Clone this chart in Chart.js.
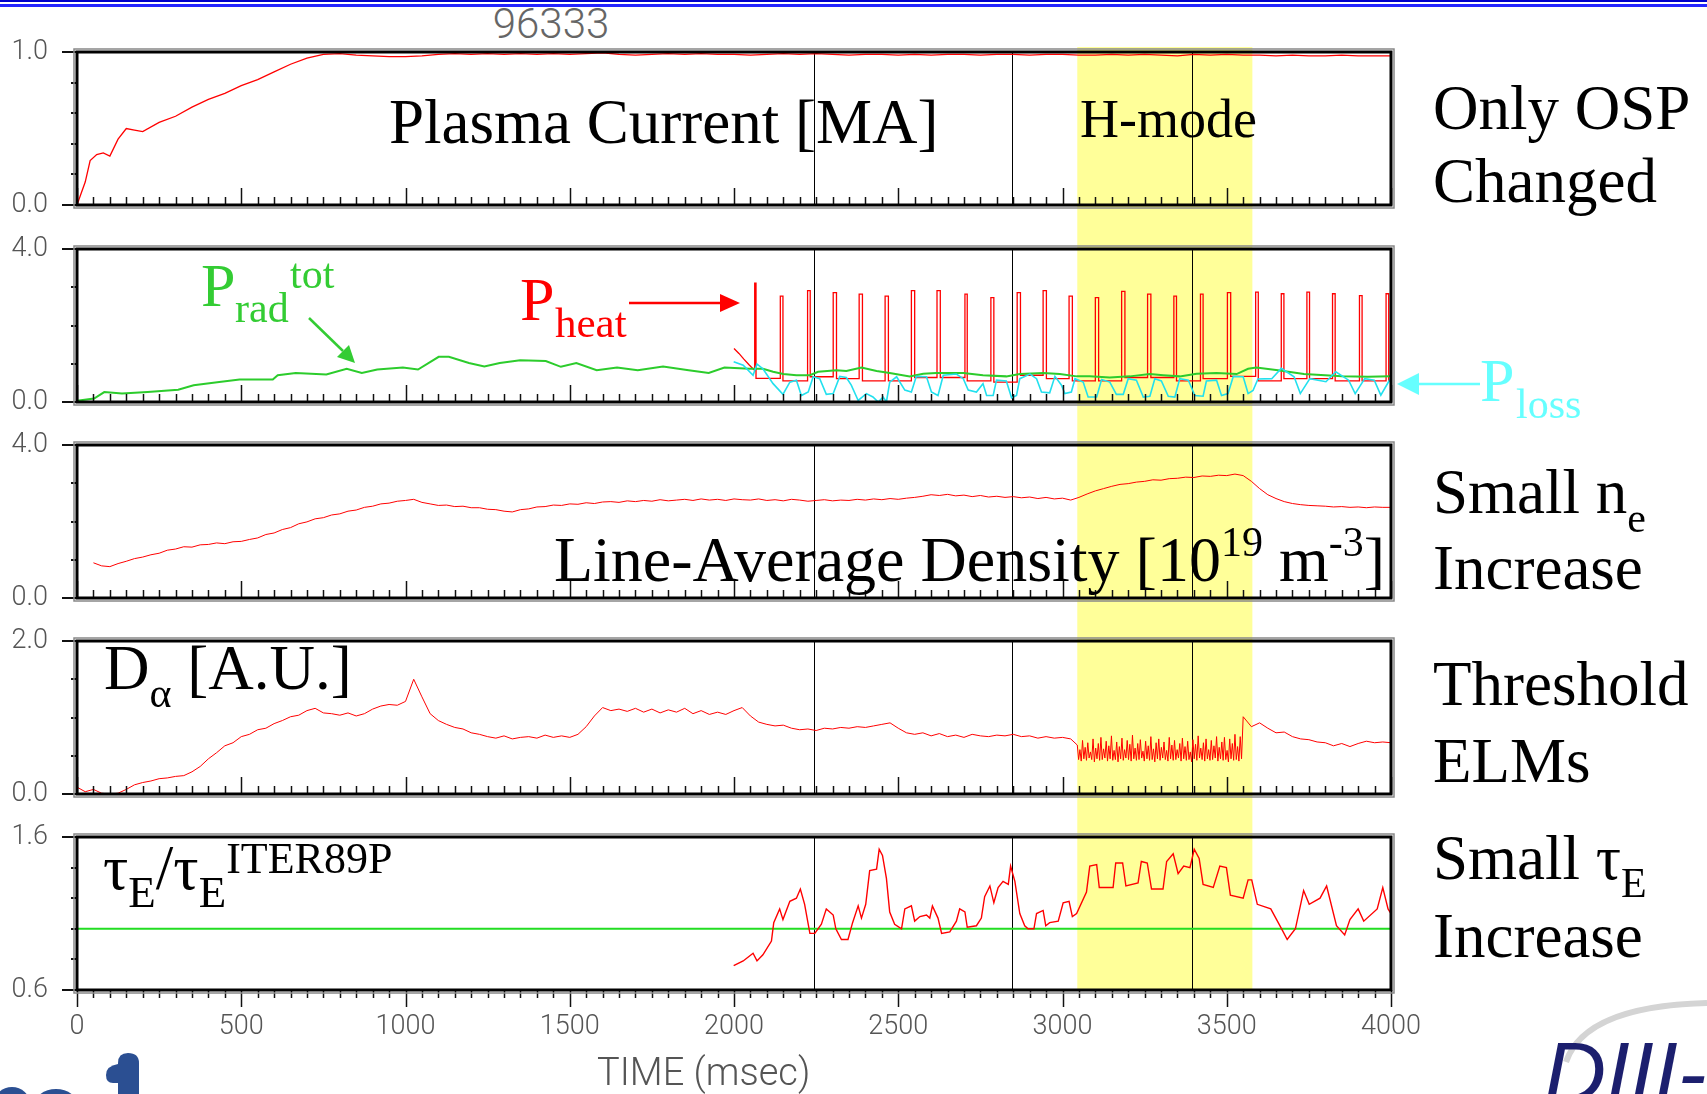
<!DOCTYPE html>
<html>
<head>
<meta charset="utf-8">
<title>96333</title>
<script src="https://cdn.jsdelivr.net/npm/chart.js@4.4.1/dist/chart.umd.min.js"></script>
<style>
  body { margin: 0; background: #fff; }
  #page { position: relative; width: 1707px; height: 1094px; overflow: hidden; background: #fff; }
  canvas { position: absolute; left: 0; }
  .rule { position: absolute; left: 0; width: 1707px; }
  .tx { position: absolute; font-family: 'Liberation Serif', 'Times New Roman', serif; line-height: 1; white-space: nowrap; color: #000; }
  .sb { position: relative; font-size: 42px; }
  .sans { position: absolute; font-family: Roboto, sans-serif; font-weight: 300; line-height: 1; color: #555; white-space: nowrap; }
  svg { position: absolute; left: 0; top: 0; }
</style>
</head>
<body>
<div id="page">
  <div class="rule" style="top:0;height:2px;background:#0000c8"></div>
  <div class="rule" style="top:4px;height:3px;background:#2424ff"></div>
  <div class="sans" style="left:451px;top:3px;width:200px;text-align:center;font-size:42px;color:#666">96333</div>

  <canvas id="ipChart" width="1707" height="197" style="top:30px"></canvas>
  <canvas id="powerChart" width="1707" height="196" style="top:227px"></canvas>
  <canvas id="neChart" width="1707" height="196" style="top:423px"></canvas>
  <canvas id="daChart" width="1707" height="196" style="top:619px"></canvas>
  <canvas id="tauChart" width="1707" height="279" style="top:815px"></canvas>

  <!-- panel captions -->
  <div class="tx" style="left:389px;top:91px;font-size:63px">Plasma Current [MA]</div>
  <div class="tx" style="left:1080px;top:92px;font-size:54px">H-mode</div>
  <div class="tx" style="right:322px;top:528px;font-size:64px">Line-Average Density [10<span class="sb" style="font-size:42px;top:-25px">19</span> m<span class="sb" style="font-size:42px;top:-25px">-3</span>]</div>
  <div class="tx" style="left:104px;top:637px;font-size:63px">D<span class="sb" style="top:18px">&alpha;</span> [A.U.]</div>
  <div class="tx" style="left:103px;top:837px;font-size:63px">&tau;<span class="sb" style="font-size:45px;top:18px">E</span>/&tau;<span class="sb" style="font-size:45px;top:18px">E</span><span class="sb" style="font-size:44px;top:-16px">ITER89P</span></div>

  <div class="tx" style="left:201px;top:254px;font-size:62px;color:#33cc33">P</div>
  <div class="tx" style="left:235px;top:287px;font-size:42px;color:#33cc33">rad</div>
  <div class="tx" style="left:290px;top:253px;font-size:42px;color:#33cc33">tot</div>
  <div class="tx" style="left:520px;top:268px;font-size:62px;color:#ff0000">P</div>
  <div class="tx" style="left:555px;top:301px;font-size:43px;color:#ff0000">heat</div>
  <div class="tx" style="left:1480px;top:349px;font-size:62px;color:#66ffff">P</div>
  <div class="tx" style="left:1516px;top:383px;font-size:42px;color:#66ffff">loss</div>

  <!-- right-hand notes -->
  <div class="tx" style="left:1433px;top:77px;font-size:63px">Only OSP</div>
  <div class="tx" style="left:1433px;top:150px;font-size:63px">Changed</div>
  <div class="tx" style="left:1433px;top:461px;font-size:63px">Small n<span class="sb" style="top:19px">e</span></div>
  <div class="tx" style="left:1433px;top:537px;font-size:63px">Increase</div>
  <div class="tx" style="left:1433px;top:653px;font-size:63px">Threshold</div>
  <div class="tx" style="left:1433px;top:730px;font-size:63px">ELMs</div>
  <div class="tx" style="left:1433px;top:827px;font-size:63px">Small &tau;<span class="sb" style="top:18px">E</span></div>
  <div class="tx" style="left:1433px;top:905px;font-size:63px">Increase</div>

  <div class="sans" style="left:597px;top:1053px;font-size:38px">TIME (msec)</div>

  <svg width="1707" height="1094">
    <!-- arrows -->
    <line x1="309" y1="318" x2="343" y2="351" stroke="#33cc33" stroke-width="2.5"/>
    <polygon points="355,363 337,357 349,345" fill="#33cc33"/>
    <line x1="629" y1="303" x2="722" y2="303" stroke="#ff0000" stroke-width="2.5"/>
    <polygon points="740,303 720,294 720,312" fill="#ff0000"/>
    <line x1="1480" y1="384" x2="1416" y2="384" stroke="#66ffff" stroke-width="2.5"/>
    <polygon points="1397,384 1419,373 1419,395" fill="#66ffff"/>
    <!-- logo fragments along the bottom edge -->
    <path d="M1566 1062 Q1585 1006 1707 1003" fill="none" stroke="#d4d4d4" stroke-width="6"/>
    <path d="M118 1094 L118 1063 Q118 1053 128 1053 Q139 1053 139 1063 L139 1094 Z" fill="#2b4f92"/>
    <path d="M118 1064 Q106 1066 106 1075 Q106 1083 113 1083 L118 1083 Z" fill="#2b4f92"/>
    <ellipse cx="12" cy="1104" rx="18" ry="17" fill="#2b4f92"/>
    <ellipse cx="56" cy="1106" rx="22" ry="17" fill="#2b4f92"/>
  </svg>
  <div style="position:absolute;left:1544px;top:1029px;font-family:'Liberation Sans',sans-serif;font-style:italic;font-size:86px;line-height:1;color:#1c1f6e;white-space:nowrap">DIII-D</div>
</div>

<script>
// --- Shared time axis ---
const xTickValues = [0, 500, 1000, 1500, 2000, 2500, 3000, 3500, 4000];
const markerTimes = [2245, 2845, 3393];
const hModeBand = [3045, 3578];

// --- 1. Plasma current [MA] ---
const ipRampTime = [0, 10, 25, 40, 60, 80, 100, 125, 150, 175, 200];
const ipRampVal = [0.00, 0.06, 0.15, 0.29, 0.33, 0.34, 0.32, 0.43, 0.50, 0.49, 0.48];
const ipStart = 250, ipStep = 50;
const ipVal = [
  0.54, 0.58, 0.64, 0.69, 0.73, 0.78, 0.82, 0.87, 0.92, 0.96, 0.985, 0.99, 0.98, 0.975, 0.97, 0.97, 0.975, 0.985, 0.99, 0.985,
  0.99, 0.985, 0.99, 0.985, 0.99, 0.985, 0.99, 0.995, 0.985, 0.98, 0.985, 0.99, 0.985, 0.99, 0.985, 0.985, 0.98, 0.985, 0.99, 0.985,
  0.99, 0.985, 0.98, 0.985, 0.985, 0.98, 0.985, 0.98, 0.985, 0.985, 0.98, 0.985, 0.985, 0.98, 0.985, 0.985, 0.98, 0.98, 0.985, 0.98,
  0.985, 0.98, 0.975, 0.985, 0.98, 0.985, 0.98, 0.98, 0.975, 0.98, 0.975, 0.975, 0.98, 0.975, 0.975, 0.975
];
const ipTicks = [0, 1];

// --- 2. Powers [MW] ---
const pradTime = [0, 52, 83, 137, 215, 308, 355, 433, 495, 596, 611, 666, 759, 821, 867, 914, 992, 1038, 1101, 1132,
  1193, 1240, 1287, 1349, 1427, 1473, 1520, 1582, 1644, 1707, 1784, 1862, 1923, 1971, 2048, 2088, 2119, 2150, 2190, 2231,
  2256, 2312, 2342, 2388, 2434, 2474, 2535, 2576, 2616, 2698, 2758, 2829, 2870, 2941, 2992, 3043, 3083, 3144, 3205, 3266,
  3307, 3357, 3408, 3469, 3530, 3565, 3590, 3656, 3735, 3851, 3930, 3997];
const pradVal = [0.03, 0.09, 0.26, 0.22, 0.26, 0.32, 0.44, 0.52, 0.59, 0.59, 0.70, 0.76, 0.72, 0.87, 0.76, 0.85, 0.90, 0.85, 1.18, 1.18,
  1.02, 0.93, 1.02, 1.09, 1.07, 0.92, 1.02, 0.83, 0.90, 0.83, 0.93, 0.83, 0.76, 0.90, 0.87, 0.87, 0.79, 0.73, 0.70, 0.70,
  0.79, 0.83, 0.81, 0.90, 0.81, 0.76, 0.67, 0.74, 0.76, 0.76, 0.70, 0.67, 0.73, 0.76, 0.73, 0.67, 0.67, 0.64, 0.67, 0.73,
  0.70, 0.67, 0.74, 0.76, 0.73, 0.87, 0.90, 0.83, 0.73, 0.67, 0.66, 0.67];

const heatLeadTime = [2000, 2015, 2030, 2045, 2060];
const heatLeadVal = [1.40, 1.27, 1.12, 0.98, 0.85];
const heatPulseTime = [2063, 2141, 2224, 2302, 2381, 2460, 2540, 2618, 2703, 2782, 2862, 2941, 3020,
  3100, 3180, 3259, 3339, 3420, 3502, 3588, 3666, 3744, 3822, 3904, 3985];
const heatPulseWidth = [4, 8, 8, 10, 10, 10, 10, 10, 7, 9, 10, 10, 10, 10, 10, 10, 8, 8, 10, 8, 8, 8, 8, 8, 8];
const heatPulseTop = [3.11, 2.77, 2.91, 2.86, 2.82, 2.77, 2.91, 2.91, 2.82, 2.73, 2.86, 2.91, 2.77,
  2.73, 2.89, 2.82, 2.77, 2.82, 2.86, 2.87, 2.83, 2.87, 2.83, 2.78, 2.83];
// level ahead of each pulse, last entry is the level after the final one
const heatBase = [0.83, 0.62, 0.55, 0.66, 0.61, 0.55, 0.55, 0.64, 0.64, 0.55, 0.52, 0.70, 0.61,
  0.55, 0.55, 0.64, 0.64, 0.55, 0.61, 0.67, 0.55, 0.61, 0.61, 0.55, 0.55, 0.55];

const plossTime = [1999, 2028, 2058, 2070, 2088, 2119, 2149, 2170, 2190, 2205, 2226, 2241, 2261, 2281, 2302, 2322, 2342, 2357, 2378, 2403,
  2423, 2439, 2454, 2464, 2474, 2495, 2520, 2540, 2555, 2586, 2601, 2621, 2637, 2677, 2698, 2713, 2738, 2758, 2769, 2789,
  2799, 2829, 2845, 2860, 2870, 2901, 2921, 2936, 2961, 2977, 2997, 3007, 3027, 3038, 3063, 3078, 3104, 3119, 3144, 3164,
  3185, 3200, 3225, 3246, 3266, 3281, 3301, 3322, 3342, 3357, 3383, 3403, 3428, 3438, 3469, 3484, 3504, 3520, 3550, 3565,
  3580, 3595, 3637, 3666, 3705, 3724, 3753, 3802, 3832, 3871, 3891, 3920, 3949, 3969, 3998];
const plossVal = [1.05, 0.96, 0.70, 0.99, 0.87, 0.48, 0.20, 0.52, 0.57, 0.17, 0.26, 0.66, 0.61, 0.20, 0.22, 0.67, 0.64, 0.44, 0.04, 0.22,
  0.13, 0.00, 0.13, 0.00, 0.52, 0.66, 0.31, 0.26, 0.67, 0.66, 0.26, 0.17, 0.70, 0.73, 0.61, 0.31, 0.26, 0.48, 0.17, 0.17,
  0.57, 0.55, 0.11, 0.17, 0.61, 0.73, 0.61, 0.26, 0.24, 0.67, 0.44, 0.22, 0.26, 0.61, 0.52, 0.13, 0.13, 0.59, 0.52, 0.20,
  0.20, 0.61, 0.57, 0.13, 0.15, 0.61, 0.55, 0.15, 0.13, 0.61, 0.57, 0.17, 0.15, 0.55, 0.57, 0.17, 0.22, 0.67, 0.66, 0.22,
  0.30, 0.60, 0.61, 0.88, 0.66, 0.22, 0.61, 0.53, 0.79, 0.57, 0.22, 0.61, 0.57, 0.18, 0.61];
const powerTicks = [0, 4];

// --- 3. Line-average density [1e19 m^-3] ---
const neStart = 50, neStep = 25;
const neVal = [
  0.92, 0.84, 0.82, 0.90, 0.96, 1.03, 1.07, 1.13, 1.17, 1.25, 1.28, 1.34, 1.33, 1.39, 1.40, 1.44, 1.42, 1.47, 1.48, 1.53,
  1.57, 1.66, 1.70, 1.79, 1.84, 1.94, 1.99, 2.07, 2.10, 2.17, 2.20, 2.27, 2.30, 2.37, 2.40, 2.46, 2.48, 2.53, 2.55, 2.58,
  2.50, 2.46, 2.42, 2.43, 2.39, 2.40, 2.36, 2.36, 2.32, 2.31, 2.27, 2.25, 2.31, 2.33, 2.38, 2.39, 2.43, 2.42, 2.46, 2.45,
  2.49, 2.47, 2.51, 2.52, 2.50, 2.54, 2.52, 2.55, 2.53, 2.57, 2.54, 2.56, 2.58, 2.55, 2.59, 2.56, 2.58, 2.55, 2.59, 2.57,
  2.56, 2.59, 2.55, 2.57, 2.54, 2.58, 2.56, 2.53, 2.55, 2.57, 2.54, 2.56, 2.55, 2.58, 2.56, 2.59, 2.57, 2.60, 2.58, 2.61,
  2.63, 2.66, 2.70, 2.68, 2.71, 2.67, 2.69, 2.65, 2.68, 2.64, 2.66, 2.63, 2.65, 2.62, 2.64, 2.60, 2.63, 2.59, 2.61, 2.56,
  2.63, 2.72, 2.80, 2.86, 2.92, 2.97, 2.99, 3.03, 3.05, 3.09, 3.08, 3.12, 3.13, 3.16, 3.15, 3.19, 3.18, 3.21, 3.20, 3.24,
  3.20, 3.05, 2.86, 2.70, 2.60, 2.52, 2.47, 2.44, 2.42, 2.41, 2.40, 2.38, 2.39, 2.37, 2.38, 2.36, 2.38, 2.37, 2.37
];
const neTicks = [0, 4];

// --- 4. D-alpha [A.U.] ---
const daStep = 25;
const daPre = [
  0.09, 0.03, 0.06, 0.01, 0.00, 0.01, 0.06, 0.12, 0.15, 0.17, 0.20, 0.21, 0.23, 0.24, 0.29, 0.36, 0.46, 0.54, 0.63, 0.67,
  0.75, 0.78, 0.84, 0.86, 0.92, 0.96, 1.01, 1.03, 1.09, 1.12, 1.06, 1.05, 1.03, 1.06, 1.02, 1.05, 1.11, 1.15, 1.17, 1.16,
  1.21, 1.50, 1.27, 1.05, 0.96, 0.91, 0.87, 0.85, 0.80, 0.78, 0.75, 0.73, 0.76, 0.72, 0.74, 0.75, 0.73, 0.77, 0.74, 0.76,
  0.74, 0.78, 0.88, 1.02, 1.13, 1.09, 1.11, 1.08, 1.12, 1.07, 1.11, 1.06, 1.10, 1.07, 1.12, 1.05, 1.09, 1.04, 1.07, 1.04,
  1.09, 1.13, 1.02, 0.94, 0.91, 0.89, 0.90, 0.86, 0.84, 0.85, 0.83, 0.86, 0.85, 0.87, 0.86, 0.88, 0.87, 0.89, 0.91, 0.93,
  0.86, 0.80, 0.78, 0.80, 0.76, 0.79, 0.75, 0.77, 0.74, 0.78, 0.76, 0.75, 0.77, 0.76, 0.78, 0.75, 0.76, 0.73, 0.75, 0.73,
  0.74, 0.72
];
// ELM bursts inside the H-mode window, 4 ms apart
const elmStart = 3045, elmStep = 4;
const elmVal = [
  0.64, 0.45, 0.58, 0.43, 0.70, 0.46, 0.61, 0.44, 0.67, 0.47,
  0.55, 0.45, 0.72, 0.42, 0.60, 0.46, 0.66, 0.44, 0.74, 0.45,
  0.59, 0.47, 0.69, 0.43, 0.63, 0.46, 0.76, 0.44, 0.57, 0.45,
  0.68, 0.42, 0.62, 0.46, 0.73, 0.44, 0.58, 0.47, 0.70, 0.45,
  0.65, 0.43, 0.77, 0.46, 0.60, 0.44, 0.66, 0.45, 0.71, 0.47,
  0.56, 0.43, 0.69, 0.46, 0.63, 0.44, 0.75, 0.45, 0.59, 0.42,
  0.67, 0.46, 0.72, 0.44, 0.61, 0.47, 0.68, 0.45, 0.57, 0.43,
  0.74, 0.46, 0.64, 0.44, 0.70, 0.45, 0.58, 0.47, 0.66, 0.43,
  0.73, 0.46, 0.62, 0.44, 0.69, 0.45, 0.55, 0.42, 0.71, 0.46,
  0.65, 0.44, 0.76, 0.47, 0.60, 0.45, 0.67, 0.43, 0.72, 0.46,
  0.58, 0.44, 0.70, 0.45, 0.63, 0.47, 0.75, 0.43, 0.61, 0.46,
  0.68, 0.44, 0.74, 0.45, 0.57, 0.42, 0.72, 0.46, 0.66, 0.44,
  0.78, 0.45, 0.62, 0.43, 0.75, 0.46
];
const daPostStart = 3550;
const daPost = [1.01, 0.88, 0.93, 0.86, 0.80, 0.81, 0.75, 0.72, 0.71, 0.68, 0.67, 0.63, 0.66, 0.62, 0.66, 0.69, 0.67, 0.68, 0.67];
const daTicks = [0, 2];

// --- 5. Confinement relative to ITER89P ---
const tauTime = [1999, 2028, 2058, 2070, 2088, 2114, 2121, 2139, 2149, 2170, 2190, 2202, 2215, 2231, 2246, 2266, 2281, 2302, 2310, 2327,
  2347, 2361, 2378, 2388, 2401, 2413, 2434, 2442, 2452, 2464, 2474, 2489, 2510, 2520, 2540, 2550, 2566, 2586, 2596, 2604,
  2621, 2632, 2657, 2677, 2687, 2703, 2710, 2738, 2753, 2763, 2779, 2791, 2804, 2819, 2835, 2842, 2855, 2870, 2885, 2895,
  2913, 2921, 2941, 2949, 2961, 2987, 3002, 3020, 3030, 3043, 3073, 3083, 3104, 3112, 3154, 3162, 3183, 3193, 3230, 3240,
  3258, 3271, 3306, 3317, 3337, 3352, 3369, 3388, 3401, 3416, 3428, 3459, 3479, 3499, 3511, 3550, 3565, 3576, 3593, 3634,
  3667, 3684, 3709, 3734, 3751, 3784, 3804, 3834, 3859, 3875, 3900, 3917, 3958, 3975, 3991, 4000];
const tauVal = [0.76, 0.79, 0.84, 0.79, 0.83, 0.92, 1.04, 1.13, 1.06, 1.18, 1.20, 1.26, 1.16, 0.97, 0.97, 1.03, 1.13, 1.09, 1.00, 0.93,
  0.93, 1.04, 1.15, 1.07, 1.16, 1.38, 1.39, 1.52, 1.48, 1.33, 1.11, 1.03, 1.00, 1.13, 1.15, 1.05, 1.08, 1.09, 1.07, 1.15,
  1.07, 0.97, 0.98, 1.05, 1.13, 1.11, 1.01, 1.02, 1.07, 1.21, 1.28, 1.17, 1.27, 1.31, 1.29, 1.41, 1.31, 1.10, 1.02, 1.00,
  1.00, 1.10, 1.12, 1.02, 1.04, 1.05, 1.17, 1.18, 1.08, 1.10, 1.24, 1.41, 1.42, 1.27, 1.27, 1.43, 1.43, 1.28, 1.30, 1.44,
  1.43, 1.26, 1.26, 1.44, 1.49, 1.36, 1.41, 1.40, 1.52, 1.46, 1.29, 1.27, 1.41, 1.40, 1.22, 1.20, 1.32, 1.32, 1.16, 1.13,
  1.00, 0.93, 1.00, 1.25, 1.16, 1.20, 1.28, 1.02, 0.96, 1.06, 1.13, 1.05, 1.13, 1.27, 1.13, 1.10];
const tauRefTime = [0, 4000];
const tauRefVal = [1.0, 1.0];
const tauTicks = [0.6, 1.6];

// --- helpers ---
const pairs = (ts, vs) => ts.map((t, i) => ({ x: t, y: vs[i] }));
const sampled = (start, step, vs) => vs.map((v, i) => ({ x: start + i * step, y: v }));

const heatPts = pairs(heatLeadTime, heatLeadVal);
heatPulseTime.forEach((t, i) => {
  const w = heatPulseWidth[i];
  heatPts.push({ x: t, y: heatBase[i] }, { x: t, y: heatPulseTop[i] },
    { x: t + w, y: heatPulseTop[i] }, { x: t + w, y: heatBase[i + 1] });
});
heatPts.push({ x: 4000, y: heatBase[heatBase.length - 1] });

const daPts = sampled(0, daStep, daPre)
  .concat(sampled(elmStart, elmStep, elmVal))
  .concat(sampled(daPostStart, daStep, daPost));

const tickFont = { family: 'Roboto', size: 27, weight: '300' };

// frame, ticks, H-mode window and time markers for each panel
const panelFrame = {
  id: 'panelFrame',
  beforeDatasetsDraw(chart, args, opts) {
    const { ctx, chartArea: a, scales: { x } } = chart;
    ctx.save();
    const b0 = x.getPixelForValue(hModeBand[0]);
    const b1 = x.getPixelForValue(hModeBand[1]);
    const top = opts.bandTop === 'area' ? a.top - 5 : 0;
    const bottom = opts.bandBottom === 'area' ? a.bottom : chart.height;
    ctx.fillStyle = '#ffff99';
    ctx.fillRect(b0, top, b1 - b0, bottom - top);
    ctx.strokeStyle = '#000';
    ctx.lineWidth = 1;
    markerTimes.forEach(t => {
      const px = Math.round(x.getPixelForValue(t)) + 0.5;
      ctx.beginPath();
      ctx.moveTo(px, a.top);
      ctx.lineTo(px, a.bottom);
      ctx.stroke();
    });
    ctx.restore();
  },
  afterDatasetsDraw(chart, args, opts) {
    const { ctx, chartArea: a, scales: { x, y } } = chart;
    ctx.save();
    ctx.strokeStyle = '#111';
    ctx.lineWidth = 1.5;
    for (let t = 0; t <= 4000; t += 50) {
      const px = Math.round(x.getPixelForValue(t)) + 0.5;
      const len = t % 500 === 0 ? 17 : 8;
      ctx.beginPath();
      ctx.moveTo(px, a.bottom);
      ctx.lineTo(px, opts.outsideTicks ? a.bottom + len : a.bottom - len);
      ctx.stroke();
    }
    ctx.lineWidth = 2;
    const n = Math.round((y.max - y.min) / opts.yStep);
    for (let i = 0; i <= n; i++) {
      const py = Math.round(y.getPixelForValue(y.min + i * opts.yStep));
      const len = (i === 0 || i === n) ? 15 : 6;
      ctx.beginPath();
      ctx.moveTo(a.left - len, py);
      ctx.lineTo(a.left, py);
      ctx.stroke();
    }
    ctx.strokeStyle = '#888';
    ctx.lineWidth = 1.5;
    ctx.strokeRect(a.left - 3, a.top - 3, a.right - a.left + 6, a.bottom - a.top + 6);
    ctx.strokeStyle = '#000';
    ctx.lineWidth = 3;
    ctx.strokeRect(a.left, a.top, a.right - a.left, a.bottom - a.top);
    ctx.restore();
  }
};

function makePanel(id, datasets, yMin, yMax, yTicks, yStep, extra) {
  const bottomPanel = !!extra.bottom;
  return new Chart(document.getElementById(id), {
    type: 'line',
    data: { datasets },
    options: {
      responsive: false,
      animation: false,
      devicePixelRatio: 1,
      events: [],
      layout: { padding: { left: 0, right: 316, top: 22, bottom: bottomPanel ? 0 : extra.padBottom } },
      elements: { point: { radius: 0 }, line: { tension: 0, borderWidth: 1 } },
      plugins: {
        legend: { display: false },
        tooltip: { enabled: false },
        panelFrame: { yStep, bandTop: extra.bandTop, bandBottom: extra.bandBottom, outsideTicks: bottomPanel }
      },
      scales: {
        x: {
          type: 'linear', min: 0, max: 4000, display: bottomPanel,
          grid: { display: false, drawTicks: false }, border: { display: false },
          ticks: { padding: 21, maxRotation: 0, autoSkip: false, color: '#555', font: tickFont, callback: v => String(v) },
          afterBuildTicks: s => { s.ticks = xTickValues.map(v => ({ value: v })); },
          afterFit: s => {
            if (bottomPanel) s.height = 104;
            s.paddingLeft = 0;
            s.paddingRight = 0;
          }
        },
        y: {
          type: 'linear', min: yMin, max: yMax,
          grid: { display: false, drawTicks: false }, border: { display: false },
          ticks: { padding: 29, color: '#555', font: tickFont, callback: v => v.toFixed(1) },
          afterBuildTicks: s => { s.ticks = yTicks.map(v => ({ value: v })); },
          afterFit: s => {
            s.width = 77;
            s.paddingTop = 0;
            s.paddingBottom = 0;
          }
        }
      }
    },
    plugins: [panelFrame]
  });
}

makePanel('ipChart', [
  { data: pairs(ipRampTime, ipRampVal).concat(sampled(ipStart, ipStep, ipVal)), borderColor: '#ff0000', borderWidth: 1.3 }
], 0, 1, ipTicks, 0.2, { bandTop: 'area', padBottom: 22 });

makePanel('powerChart', [
  { data: pairs(plossTime, plossVal), borderColor: '#22e0ee', borderWidth: 1.6 },
  { data: pairs(pradTime, pradVal), borderColor: '#2ccc2c', borderWidth: 2 },
  { data: heatPts, borderColor: '#ff0000', borderWidth: 1.3 }
], 0, 4, powerTicks, 1, { padBottom: 21 });

makePanel('neChart', [
  { data: sampled(neStart, neStep, neVal), borderColor: '#ff0000', borderWidth: 1 }
], 0, 4, neTicks, 1, { padBottom: 21 });

makePanel('daChart', [
  { data: daPts, borderColor: '#ff0000', borderWidth: 1 }
], 0, 2, daTicks, 0.5, { padBottom: 21 });

makePanel('tauChart', [
  { data: pairs(tauTime, tauVal), borderColor: '#ff0000', borderWidth: 1.4 },
  { data: pairs(tauRefTime, tauRefVal), borderColor: '#22dd22', borderWidth: 2 }
], 0.6, 1.6, tauTicks, 0.2, { bandBottom: 'area', bottom: true });
</script>
</body>
</html>
